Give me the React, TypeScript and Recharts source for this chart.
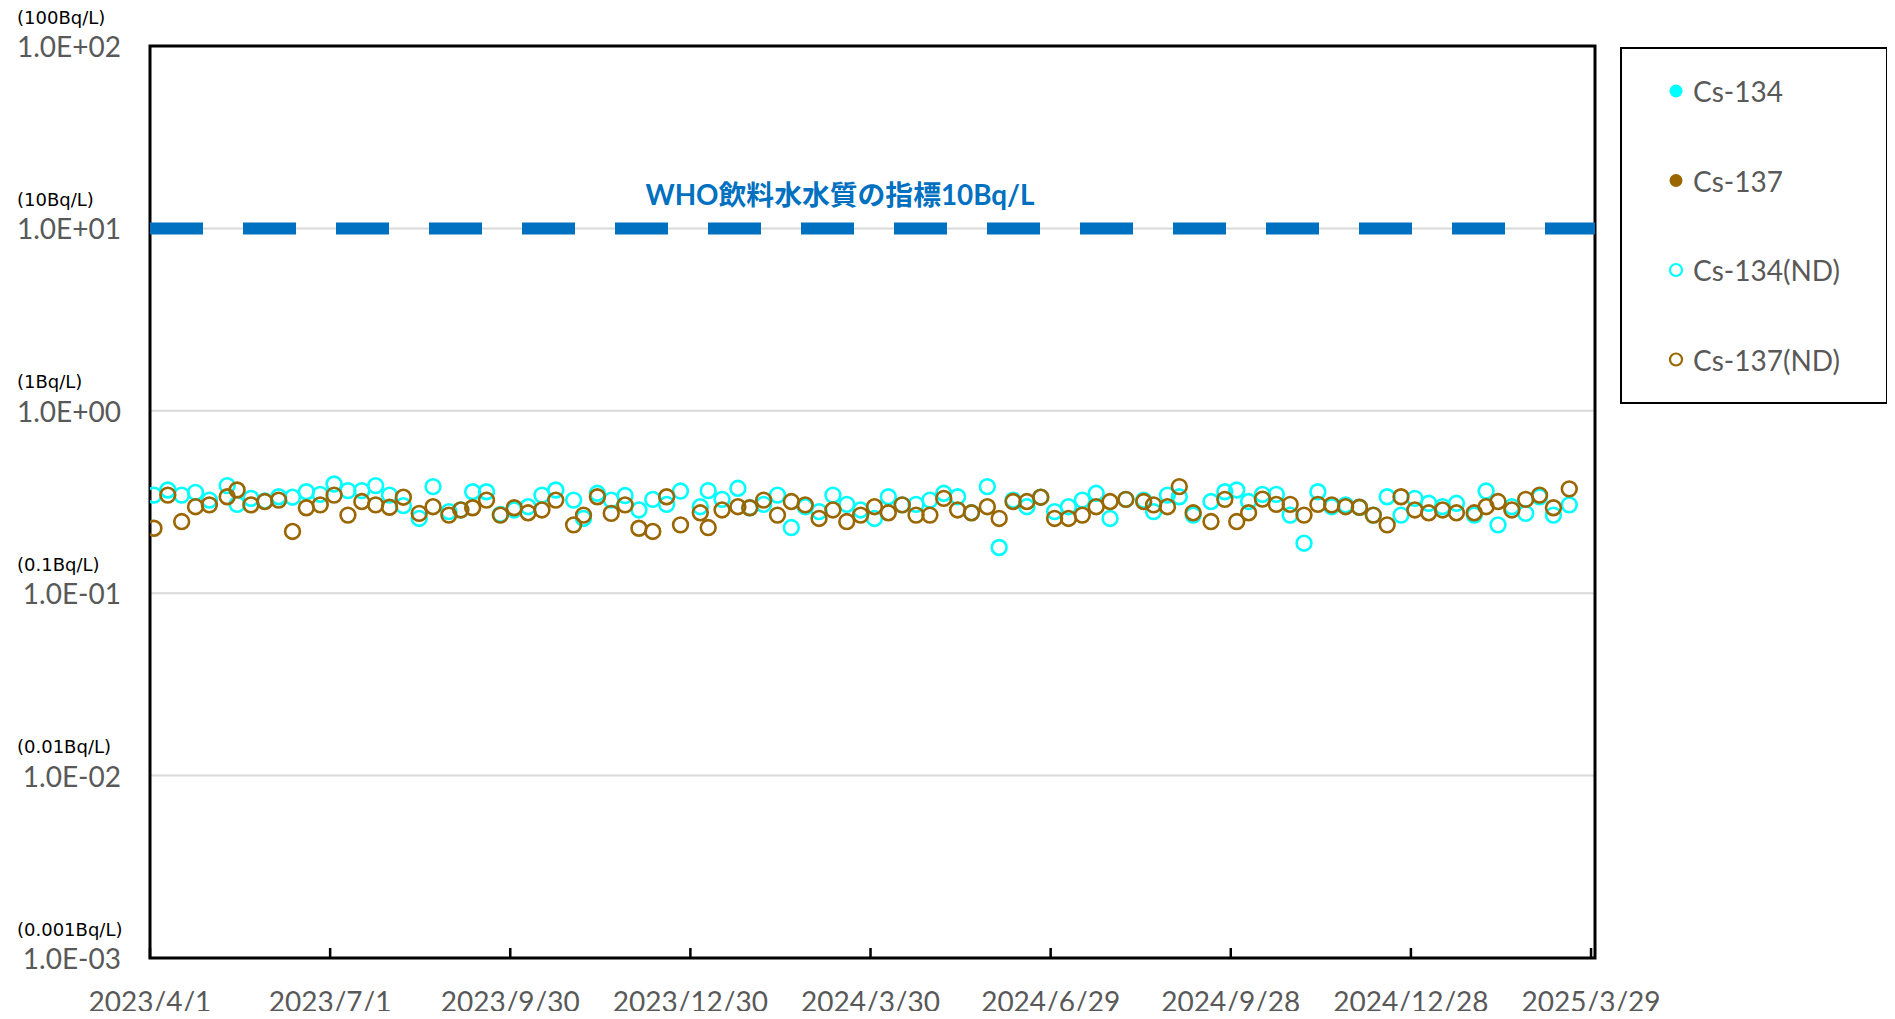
import React from 'react';
import { ScatterChart, Scatter, XAxis, YAxis, CartesianGrid, ReferenceLine, ReferenceArea } from 'recharts';

// Sampling dates (shared by both nuclides)
const sampleDates = [
  '2023/4/3', '2023/4/10', '2023/4/17', '2023/4/24', '2023/5/1', '2023/5/10', '2023/5/15', '2023/5/22', '2023/5/29',
  '2023/6/5', '2023/6/12', '2023/6/19', '2023/6/26', '2023/7/3', '2023/7/10', '2023/7/17', '2023/7/24', '2023/7/31',
  '2023/8/7', '2023/8/15', '2023/8/22', '2023/8/30', '2023/9/5', '2023/9/11', '2023/9/18', '2023/9/25', '2023/10/2',
  '2023/10/9', '2023/10/16', '2023/10/23', '2023/11/1', '2023/11/6', '2023/11/13', '2023/11/20', '2023/11/27',
  '2023/12/4', '2023/12/11', '2023/12/18', '2023/12/25', '2024/1/4', '2024/1/8', '2024/1/15', '2024/1/23', '2024/1/29',
  '2024/2/5', '2024/2/12', '2024/2/19', '2024/2/26', '2024/3/4', '2024/3/11', '2024/3/18', '2024/3/25', '2024/4/1',
  '2024/4/8', '2024/4/15', '2024/4/22', '2024/4/29', '2024/5/6', '2024/5/13', '2024/5/20', '2024/5/28', '2024/6/3',
  '2024/6/10', '2024/6/17', '2024/6/24', '2024/7/1', '2024/7/8', '2024/7/15', '2024/7/22', '2024/7/29', '2024/8/6',
  '2024/8/15', '2024/8/20', '2024/8/27', '2024/9/2', '2024/9/9', '2024/9/18', '2024/9/25', '2024/10/1', '2024/10/7',
  '2024/10/14', '2024/10/21', '2024/10/28', '2024/11/4', '2024/11/11', '2024/11/18', '2024/11/25', '2024/12/2',
  '2024/12/9', '2024/12/16', '2024/12/23', '2024/12/30', '2025/1/6', '2025/1/13', '2025/1/20', '2025/1/29', '2025/2/4',
  '2025/2/10', '2025/2/17', '2025/2/24', '2025/3/3', '2025/3/10', '2025/3/18',
];

// Detection limits (ND) in Bq/L
const cs134NDValues = [
  0.345, 0.368, 0.345, 0.357, 0.324, 0.389, 0.307, 0.331, 0.320,
  0.338, 0.336, 0.360, 0.348, 0.397, 0.365, 0.365, 0.389, 0.345,
  0.302, 0.257, 0.384, 0.280, 0.286, 0.360, 0.360, 0.270, 0.286,
  0.298, 0.345, 0.368, 0.324, 0.257, 0.353, 0.324, 0.343,
  0.286, 0.327, 0.307, 0.363, 0.298, 0.365, 0.327, 0.376, 0.294,
  0.307, 0.345, 0.229, 0.298, 0.280, 0.345, 0.307, 0.286, 0.257,
  0.338, 0.305, 0.307, 0.324, 0.353, 0.338, 0.276, 0.384, 0.178,
  0.324, 0.298, 0.336, 0.280, 0.298, 0.324, 0.353, 0.257, 0.327,
  0.324, 0.280, 0.345, 0.338, 0.268, 0.318, 0.360, 0.368, 0.318,
  0.348, 0.348, 0.268, 0.188, 0.360, 0.298, 0.305, 0.296,
  0.268, 0.338, 0.268, 0.331, 0.311, 0.298, 0.311, 0.268, 0.363,
  0.237, 0.298, 0.274, 0.338, 0.268, 0.305,
];
const cs137NDValues = [
  0.227, 0.345, 0.247, 0.298, 0.305, 0.338, 0.368, 0.305, 0.318,
  0.324, 0.218, 0.294, 0.305, 0.345, 0.268, 0.318, 0.305, 0.296,
  0.336, 0.274, 0.298, 0.268, 0.286, 0.294, 0.324, 0.268, 0.294,
  0.276, 0.286, 0.324, 0.237, 0.268, 0.338, 0.274, 0.305,
  0.227, 0.218, 0.338, 0.237, 0.276, 0.229, 0.286, 0.298, 0.294,
  0.324, 0.268, 0.318, 0.305, 0.257, 0.286, 0.247, 0.268, 0.298,
  0.276, 0.305, 0.268, 0.268, 0.331, 0.286, 0.276, 0.298, 0.257,
  0.318, 0.318, 0.336, 0.257, 0.257, 0.268, 0.298, 0.318, 0.327,
  0.318, 0.305, 0.298, 0.384, 0.276, 0.247, 0.327, 0.247, 0.276,
  0.328, 0.307, 0.307, 0.268, 0.307, 0.305, 0.298, 0.296,
  0.268, 0.237, 0.338, 0.286, 0.276, 0.286, 0.276, 0.276, 0.298,
  0.318, 0.286, 0.327, 0.345, 0.294, 0.373,
];
// Detected values (none in this period)
const cs134Values: number[] = [];
const cs137Values: number[] = [];

const xTickLabels = ['2023/4/1', '2023/7/1', '2023/9/30', '2023/12/30', '2024/3/30', '2024/6/29', '2024/9/28', '2024/12/28', '2025/3/29'];
const xDomainLabels = ['2023/4/1', '2025/3/31'];
const yTickValues = [0.001, 0.01, 0.1, 1, 10, 100];
const yNumLabels = ['1.0E-03', '1.0E-02', '1.0E-01', '1.0E+00', '1.0E+01', '1.0E+02'];
const yUnitLabels = ['(0.001Bq/L)', '(0.01Bq/L)', '(0.1Bq/L)', '(1Bq/L)', '(10Bq/L)', '(100Bq/L)'];
const whoGuideline = 10;
const whoLabel = 'WHO飲料水水質の指標10Bq/L';

const seriesNames = ['Cs-134', 'Cs-137', 'Cs-134(ND)', 'Cs-137(ND)'];

const CYAN = '#00FFFF';
const BROWN = '#996600';
const LABEL_FONT = "Lato, 'Noto Sans', sans-serif";

const toTime = (s: string) => {
  const [y, m, d] = s.split('/').map(Number);
  return Date.UTC(y, m - 1, d);
};

const makePoints = (vals: number[]) => vals.map((v, i) => ({ x: toTime(sampleDates[i]), y: v }));

const cs134Data = makePoints(cs134Values);
const cs137Data = makePoints(cs137Values);
const cs134NDData = makePoints(cs134NDValues);
const cs137NDData = makePoints(cs137NDValues);

const xTicks = xTickLabels.map(toTime);
const xDomain = xDomainLabels.map(toTime);

const ring = (color: string) => (props: any) => (
  <circle cx={props.cx} cy={props.cy} r={7.4} fill="none" stroke={color} strokeWidth={2.6} />
);
const dot = (color: string) => (props: any) => (
  <circle cx={props.cx} cy={props.cy} r={7} fill={color} stroke="none" />
);

const YTick = (props: any) => {
  const { y, payload } = props;
  const i = yTickValues.findIndex((t) => Math.abs(Math.log10(t) - Math.log10(payload.value)) < 1e-6);
  if (i < 0) return null;
  return (
    <g>
      <text x={17} y={y - 29} fontFamily="'DejaVu Sans', sans-serif" fontSize={18} fill="#000" dominantBaseline="central">
        {yUnitLabels[i]}
      </text>
      <text x={121} y={y} textAnchor="end" dominantBaseline="central" fontFamily={LABEL_FONT} fontSize={28} fill="#595959">
        {yNumLabels[i]}
      </text>
    </g>
  );
};

const XTick = (props: any) => {
  const { x, y, payload } = props;
  const i = xTicks.indexOf(payload.value);
  return (
    <g>
      <line x1={x} x2={x} y1={y} y2={y - 10} stroke="#000" strokeWidth={2.5} />
      <text x={x} y={y + 43} textAnchor="middle" dominantBaseline="central" fontFamily={LABEL_FONT} fontSize={28} fill="#595959">
        {i >= 0 ? xTickLabels[i] : ''}
      </text>
    </g>
  );
};

const WhoLabel = (props: any) => {
  const vb = props.viewBox || {};
  const cx = (vb.x ?? 0) + (vb.width ?? 0) * 0.4775;
  return (
    <text x={cx} y={(vb.y ?? 0) - 34} textAnchor="middle" dominantBaseline="central"
      fontFamily="Lato, 'Noto Sans CJK JP', sans-serif" fontWeight={700} fontSize={27.8} fill="#0070C0">
      {whoLabel}
    </text>
  );
};

const legendStyles = [
  { color: CYAN, filled: true },
  { color: BROWN, filled: true },
  { color: CYAN, filled: false },
  { color: BROWN, filled: false },
];

const LegendBox = () => (
  <svg width={268} height={357}>
    <rect x={1} y={1} width={266} height={355} fill="#fff" stroke="#000" strokeWidth={2} />
    {seriesNames.map((name, i) => {
      const cy = 44 + i * 89.5;
      const st = legendStyles[i];
      return (
        <g key={name}>
          {st.filled ? (
            <circle cx={56} cy={cy} r={6.5} fill={st.color} />
          ) : (
            <circle cx={56} cy={cy} r={6} fill="none" stroke={st.color} strokeWidth={2.2} />
          )}
          <text x={73} y={cy} dominantBaseline="central" fontFamily={LABEL_FONT} fontSize={28} fill="#595959">
            {name}
          </text>
        </g>
      );
    })}
  </svg>
);

export default function App() {
  return (
    <div style={{ position: 'relative', width: 1895, height: 1019, margin: -8 }}>
      <ScatterChart width={1895} height={1019} margin={{ top: 46, right: 300, bottom: 5, left: 0 }}>
        <CartesianGrid vertical={false} stroke="#D9D9D9" strokeWidth={2} />
        <XAxis
          dataKey="x"
          type="number"
          domain={xDomain}
          ticks={xTicks}
          allowDataOverflow
          height={56}
          tickSize={0}
          tickMargin={0}
          axisLine={false}
          tickLine={false}
          tick={<XTick />}
          interval={0}
        />
        <YAxis
          dataKey="y"
          type="number"
          scale="log"
          domain={[0.001, 100]}
          ticks={yTickValues}
          allowDataOverflow
          width={150}
          axisLine={false}
          tickLine={false}
          tick={<YTick />}
          interval={0}
        />
        <ReferenceLine
          y={whoGuideline}
          stroke="#0070C0"
          strokeWidth={12}
          strokeDasharray="53 40"
          label={<WhoLabel />}
        />
        <Scatter name={seriesNames[2]} data={cs134NDData} shape={ring(CYAN)} isAnimationActive={false} />
        <Scatter name={seriesNames[3]} data={cs137NDData} shape={ring(BROWN)} isAnimationActive={false} />
        <Scatter name={seriesNames[0]} data={cs134Data} shape={dot(CYAN)} isAnimationActive={false} />
        <Scatter name={seriesNames[1]} data={cs137Data} shape={dot(BROWN)} isAnimationActive={false} />
        <ReferenceArea
          x1={xDomain[0]}
          x2={xDomain[1]}
          y1={0.001}
          y2={100}
          fill="none"
          fillOpacity={0}
          stroke="#000"
          strokeWidth={3}
          ifOverflow="visible"
        />
      </ScatterChart>
      <div style={{ position: 'absolute', left: 1620, top: 47 }}>
        <LegendBox />
      </div>
    </div>
  );
}
